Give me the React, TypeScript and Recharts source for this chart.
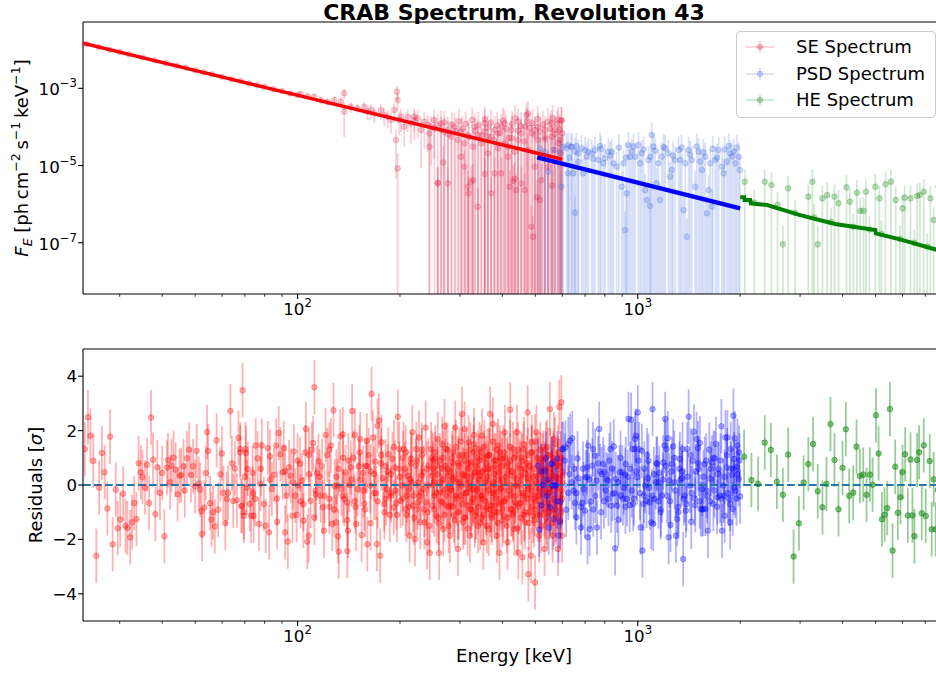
import React from "react";
import { ScatterChart, Scatter, XAxis, YAxis, ErrorBar, ReferenceLine, Legend } from "recharts";

const FONT = "'DejaVu Sans', Verdana, sans-serif";

// axis ranges
const E_RANGE = [23.4, 8000];
const F_RANGE = [4.69e-9, 0.0523];
const RES_RANGE = [-5, 5];

const E_TICKS = [30, 40, 50, 60, 70, 80, 90, 100, 200, 300, 400, 500, 600, 700, 800, 900, 1000, 2000, 3000, 4000, 5000, 6000, 7000];
const F_TICKS = [1e-7, 1e-5, 1e-3];
const RES_TICKS = [-4, -2, 0, 2, 4];

// model curves [keV, flux]
const SE_MODEL = [[23.4, 1.466e-2], [600, 1.45e-5]];
const PSD_MODEL = [[506, 1.63e-5], [2000, 7.78e-7]];
const HE_MODEL = [
  [2000, 1.5e-6], [2055, 1.5e-6], [2060, 1.28e-6], [2140, 1.28e-6], [2150, 1.05e-6], [2400, 9.5e-7],
  [3000, 5.2e-7], [3800, 3.05e-7], [4990, 2.13e-7], [5010, 1.75e-7], [5900, 1.22e-7], [8000, 5.7e-8],
];

// spectra [keV, flux, sigma / flux]
const SE_FLUX = [
  [24, 1.39e-2, 0.06], [26, 1.17e-2, 0.06], [28, 1.0e-2, 0.07], [30, 8.8e-3, 0.07], [32, 7.6e-3, 0.07], [35, 6.3e-3, 0.08],
  [38, 5.3e-3, 0.08], [41, 4.5e-3, 0.08], [44, 3.9e-3, 0.09], [47, 3.45e-3, 0.09], [50, 2.95e-3, 0.09], [53, 2.6e-3, 0.1],
  [56, 2.3e-3, 0.1], [60, 2.0e-3, 0.1], [64, 1.72e-3, 0.1], [68, 1.55e-3, 0.11], [72, 1.35e-3, 0.11], [76, 1.22e-3, 0.12],
  [80, 1.1e-3, 0.12], [85, 9.4e-4, 0.13], [90, 8.5e-4, 0.14], [95, 7.4e-4, 0.15], [100, 6.8e-4, 0.15],
  [102.1, 7.12e-4, 0.15], [106.8, 6.32e-4, 0.16], [111.8, 6.07e-4, 0.18], [117, 4.97e-4, 0.2], [122.4, 4.5e-4, 0.2],
  [128.1, 4.97e-4, 0.22], [134, 4.5e-4, 0.25], [137.1, 7.41e-4, 0.3], [137.1, 2.48e-4, 0.78], [143.4, 3.34e-4, 0.3],
  [150, 3.03e-4, 0.3], [157, 3.34e-4, 0.35], [160.6, 2.48e-4, 0.4], [164.3, 2.74e-4, 0.4], [168, 2.25e-4, 0.45],
  [175.8, 2.74e-4, 0.45], [179.8, 2.03e-4, 0.5], [183.9, 1.84e-4, 0.5], [188.1, 1.51e-4, 0.55], [192.4, 2.74e-4, 0.5],
  [194.6, 4.58e-5, 0.9], [196, 8.18e-4, 0.4], [196.8, 4.97e-4, 0.5], [196.8, 8.44e-6, 1.5], [199.1, 1.51e-4, 0.6],
  [201.3, 1.84e-4, 0.6], [205.9, 1.01e-4, 0.7], [210.6, 1.84e-4, 0.6], [215.4, 1.24e-4, 0.7], [220.4, 1.51e-4, 0.7],
  [220.5, 1.84e-4, 0.6], [225.4, 1.67e-4, 0.7], [230.6, 8.31e-5, 0.9], [235.9, 1.37e-4, 0.8], [241.3, 1.12e-4, 0.8],
  [244, 6.81e-5, 1.1], [244.1, 3.08e-5, 1.5], [246.8, 1.01e-4, 0.9], [252.5, 9.18e-5, 1.0], [258.2, 3.45e-6, 1.6],
  [258.3, 3.59e-6, 1.6], [264.1, 1.24e-4, 1.2], [270.2, 7.53e-5, 1.3], [276.4, 3.45e-6, 1.6], [276.4, 8.31e-5, 1.2],
  [282.7, 5.58e-5, 1.4], [289.2, 1.01e-4, 1.2], [295.8, 4.58e-5, 1.5], [302.5, 7.53e-5, 1.3], [302.6, 1.69e-5, 1.6],
  [309.5, 3.75e-5, 1.5], [309.6, 9.33e-6, 1.6], [316.6, 6.17e-5, 1.4], [316.6, 2.83e-6, 1.6], [318, 1.9e-6, 1.7],
  [323.8, 3.81e-6, 1.6], [327.5, 3.08e-5, 1.6], [327.6, 4.21e-6, 1.6], [331.2, 1.01e-4, 1.2], [338.8, 6.17e-5, 1.4],
  [338.8, 8.57e-7, 2], [346.6, 3.75e-5, 1.6], [354.6, 7.53e-5, 1.4], [354.6, 1.24e-4, 1.2], [362.7, 2.07e-5, 1.6],
  [362.7, 5.6e-5, 1.5], [371, 5.58e-5, 1.5], [371, 1.9e-6, 1.7], [379.4, 8.3e-5, 1.3], [379.5, 6.26e-6, 1.6],
  [388.2, 6.81e-5, 1.4], [388.2, 2.79e-5, 1.6], [397.1, 1.01e-4, 1.2], [397, 6.26e-6, 1.6], [406.2, 3.75e-5, 1.6],
  [406.2, 1.24e-4, 1.2], [415.5, 1.69e-5, 1.6], [415.4, 3.08e-5, 1.6], [420.3, 2.83e-6, 1.6], [425.1, 8.31e-5, 1.3],
  [425.1, 5.1e-5, 1.5], [434.8, 2.28e-5, 1.6], [434.6, 4.56e-6, 1.6], [439.6, 2.32e-6, 1.7], [444.8, 4.58e-5, 1.5],
  [444.8, 1.37e-4, 1.2], [454.8, 6.8e-5, 1.4], [455, 3.45e-6, 1.6], [465.4, 1.01e-4, 1.2], [465.2, 2.32e-6, 1.7],
  [470.7, 2.03e-4, 1.1], [475.7, 2.25e-4, 1.1], [476.1, 2.52e-5, 1.6], [486.7, 2.6e-7, 2.5], [487, 6.81e-5, 1.4],
  [492.3, 1.43e-7, 2.5], [497.9, 8.3e-5, 1.3], [498.2, 9.33e-6, 1.6], [509.2, 1.01e-4, 1.2], [509.6, 4.58e-5, 1.5],
  [515.4, 1.28e-6, 2], [520.9, 4.21e-6, 1.6], [521.3, 2.07e-5, 1.6], [532.9, 5.6e-5, 1.5], [533.2, 8.31e-5, 1.3],
  [545, 9.33e-6, 1.6], [545.5, 1.69e-5, 1.6], [557.6, 1.24e-4, 1.2], [558, 5.58e-5, 1.5], [570.2, 8.31e-5, 1.3],
  [570.8, 2.52e-5, 1.6], [583.4, 3.8e-5, 1.6], [583.9, 1.51e-4, 1.2], [590.5, 4.58e-5, 1.5], [594.5, 2.07e-5, 1.6],
  [596.7, 1.51e-4, 1.2], [600, 6.8e-5, 1.4],
  [252, 1.5e-4, 0.9], [258, 1.1e-4, 1.0], [264, 8.5e-5, 1.1], [268, 1.2e-5, 1.6], [270, 1.3e-4, 1.0], [277, 6.5e-5, 1.2],
  [284, 1.15e-4, 1.1], [291, 7.8e-5, 1.2], [298, 1.4e-4, 1.1], [305, 9.0e-5, 1.2], [312, 1.2e-4, 1.1], [319, 5.5e-5, 1.3],
  [326, 1.5e-4, 1.1], [333, 8.0e-5, 1.2], [340, 1.1e-4, 1.2], [347, 6.0e-5, 1.3], [355, 1.6e-4, 1.1], [355, 6e-6, 1.6],
  [362, 9.5e-5, 1.2], [370, 1.3e-4, 1.2], [378, 4.5e-5, 1.4], [386, 1.1e-4, 1.2], [394, 7.0e-5, 1.3], [402, 1.45e-4, 1.2],
  [410, 9.0e-5, 1.3], [418, 5.2e-5, 1.4], [427, 1.2e-4, 1.2], [430, 4e-6, 1.6], [436, 1.7e-4, 1.2], [445, 8.0e-5, 1.3],
  [454, 1.05e-4, 1.3], [463, 4.2e-5, 1.5], [472, 1.4e-4, 1.2], [481, 9.5e-5, 1.3], [490, 1.25e-4, 1.3], [499, 6.0e-5, 1.4],
  [505, 1.5e-6, 1.8], [508, 1.6e-4, 1.2], [517, 7.5e-5, 1.4], [526, 1.15e-4, 1.3], [535, 4.8e-5, 1.5], [544, 1.35e-4, 1.3],
  [553, 9.0e-5, 1.4], [560, 3e-6, 1.6], [562, 1.7e-4, 1.2], [571, 6.5e-5, 1.4], [580, 1.2e-4, 1.3], [589, 8.5e-5, 1.4],
  [597, 1.45e-4, 1.3],
];

const PSD_FLUX = [
  [515, 2.79e-5, 1.2], [533, 2.28e-5, 1.3], [545, 6.9e-6, 1.4], [564, 2.52e-5, 1.2], [597, 2.83e-6, 1.5], [603.6, 3.08e-5, 1.2],
  [617, 2.79e-5, 1.3], [624, 6.28e-6, 1.4], [624.4, 3.4e-5, 1.2], [638.6, 3.08e-5, 1.2], [639, 3.07e-5, 1.3], [646, 6.27e-6, 1.4],
  [653, 2.28e-5, 1.3], [653.5, 6.0e-7, 1.8], [668.4, 2.07e-5, 1.2], [669, 1.25e-5, 1.3], [683.7, 2.79e-5, 1.2], [691.5, 6.27e-6, 1.4],
  [707.3, 1.69e-5, 1.3], [715.3, 2.28e-5, 1.2], [731.7, 2.07e-5, 1.3], [748.4, 2.52e-5, 1.2], [765.6, 1.39e-5, 1.3],
  [774.3, 3.2e-5, 1.2], [792, 1.14e-5, 1.3], [801, 1.53e-5, 1.3], [819.3, 2.28e-5, 1.2], [838.1, 2.28e-5, 1.2],
  [847.6, 1.14e-5, 1.3], [866.9, 9.33e-6, 1.4], [896.9, 2.83e-6, 1.5], [907.1, 1.14e-5, 1.3], [917.5, 2.13e-7, 2],
  [927.9, 1.9e-6, 1.5], [938.4, 3.4e-5, 1.2], [949.1, 1.69e-5, 1.3], [970.9, 3.08e-5, 1.2], [981.8, 1.69e-5, 1.3],
  [1004, 3.4e-5, 1.2], [1016, 1.14e-5, 1.3], [1027, 2.07e-5, 1.2], [1051, 2.32e-6, 1.5], [1063, 1.28e-6, 1.6],
  [1075, 1.39e-5, 1.3], [1087, 8.93e-7, 1.7], [1099, 6.17e-5, 1.1], [1112, 3.08e-5, 1.2], [1137, 3.45e-6, 1.5],
  [1150, 1.14e-5, 1.3], [1163, 1.28e-6, 1.6], [1177, 1.69e-5, 1.3], [1203, 2.79e-5, 1.2], [1231, 2.07e-5, 1.2],
  [1245, 5.14e-6, 1.4], [1259, 7.65e-6, 1.4], [1288, 1.39e-5, 1.3], [1318, 2.52e-5, 1.2], [1333, 1.39e-5, 1.3],
  [1363, 7.03e-7, 1.8], [1379, 1.14e-5, 1.3], [1394, 1.43e-7, 2], [1410, 2.52e-5, 1.2], [1442, 1.39e-5, 1.3],
  [1475, 2.83e-6, 1.5], [1509, 2.28e-5, 1.2], [1526, 1.26e-5, 1.3], [1544, 7.65e-6, 1.4], [1579, 1.69e-5, 1.3],
  [1597, 5.77e-7, 1.8], [1615, 2.32e-6, 1.5], [1633, 1.14e-5, 1.3], [1652, 8.59e-7, 1.7], [1690, 1.39e-5, 1.3],
  [1729, 2.52e-5, 1.2], [1768, 9.33e-6, 1.4], [1788, 6.27e-6, 1.4], [1829, 1.26e-5, 1.3], [1871, 2.07e-5, 1.2],
  [1914, 2.28e-5, 1.2], [1936, 1.14e-5, 1.3], [1980, 1.69e-5, 1.3], [1995, 7.65e-6, 1.4],
  [590, 2.2e-5, 1.2], [630, 1.6e-5, 1.3], [660, 3.2e-5, 1.2], [700, 2.5e-5, 1.2], [740, 1.5e-5, 1.3], [780, 2.7e-5, 1.2],
  [830, 1.8e-5, 1.3], [880, 2.9e-5, 1.2], [925, 1.6e-5, 1.3], [960, 2.3e-5, 1.2], [1040, 2.6e-5, 1.2], [1090, 1.7e-5, 1.3],
  [1125, 2.4e-5, 1.2], [1190, 3.0e-5, 1.2], [1270, 1.8e-5, 1.3], [1345, 2.9e-5, 1.2], [1425, 1.9e-5, 1.3], [1490, 3.1e-5, 1.2],
  [1560, 2.2e-5, 1.2], [1660, 2.7e-5, 1.2], [1710, 1.6e-5, 1.3], [1800, 2.6e-5, 1.2], [1850, 3.2e-5, 1.2], [1890, 1.7e-5, 1.3],
  [1955, 2.9e-5, 1.2],
];

const HE_FLUX = [
  [2063, 3.81e-6, 1.1], [2200, 1.1e-6, 1.2], [2362, 3.81e-6, 1.1], [2471, 3.13e-6, 1.1], [2575, 9.48e-7, 1.2],
  [2670, 9.08e-8, 2], [2768, 2.56e-6, 1.1], [2900, 6e-7, 1.2], [3172, 1.56e-6, 1.1], [3261, 3.81e-6, 1.1],
  [3300, 4.5e-7, 1.2], [3381, 9.08e-8, 2], [3490, 1.41e-6, 1.1], [3603, 1.72e-6, 1.1], [3700, 3.5e-7, 1.2],
  [3787, 1.56e-6, 1.1], [3891, 1.05e-6, 1.2], [4108, 2.72e-6, 1.1], [4203, 1.16e-6, 1.2], [4300, 2.6e-7, 1.2],
  [4406, 1.98e-6, 1.1], [4509, 6.62e-7, 1.2], [4613, 6.76e-7, 1.2], [4686, 2.1e-6, 1.1], [4800, 2.2e-7, 1.2],
  [4991, 2.83e-6, 1.1], [5131, 1.41e-6, 1.1], [5200, 1.7e-7, 1.2], [5348, 3.25e-6, 1.1], [5548, 3.81e-6, 1.1],
  [5730, 1.28e-6, 1.2], [5900, 1.25e-7, 1.2], [6001, 7.77e-7, 1.2], [6087, 1.47e-6, 1.1], [6334, 1.41e-6, 1.1],
  [6500, 1.0e-7, 1.2], [6624, 1.62e-6, 1.1], [6743, 1.72e-6, 1.1], [6928, 2.1e-6, 1.1], [7100, 8e-8, 1.2],
  [7248, 1.41e-6, 1.1], [7410, 3.87e-7, 1.2], [7653, 2.83e-6, 1.1],
];

// residuals [keV, sigma]
const SE_RES = [
  [23.7, 1.32], [24.2, 2.49], [24.6, 1.81], [25.1, 0.89], [25.6, -2.6], [26.1, -0.09], [26.6, 1.18], [27.1, 0.47], [27.6, -0.86],
  [28.1, 1.78], [28.6, -2.18], [29.2, -0.17], [29.6, -1.59], [30.1, -1.27], [30.7, -0.32], [31.2, -1.5], [31.6, -1.58],
  [32.2, -1.92], [32.6, -1.37], [33.1, -0.66], [33.6, -1.25], [34.1, 0.8], [34.6, 0.47], [35.0, 0.29], [35.6, -0.09],
  [36.1, 0.74], [36.6, -0.66], [37.1, 2.48], [37.6, 0.93], [38.2, -1.07], [38.7, 0.65], [39.4, -0.29], [40.0, 0.44],
  [40.6, -1.89], [41.3, 0.64], [41.6, 0.91], [42.2, 0.1], [42.6, 0.71], [43.2, 1.0], [43.8, 0.56], [44.4, -0.34], [45.0, 0.34],
  [45.5, 0.37], [46.2, 0.69], [46.6, -0.2], [47.3, 0.98], [48.0, 1.3], [48.6, 0.37], [49.3, 0.69], [50.0, -0.05], [50.5, 1.25],
  [51.2, 0.05], [51.7, -0.17], [52.2, -0.96], [52.4, -1.8], [53.2, -0.83], [53.7, 0.44], [54.2, 1.95], [54.6, 1.25],
  [55.3, -0.67], [55.8, -1.27], [56.4, -1.0], [57.1, -1.52], [57.8, 1.64], [58.4, -0.91], [59.3, 0.39], [59.9, 1.16],
  [60.5, -0.29], [61.3, -1.4], [61.9, -0.51], [62.5, -0.29], [63.5, 2.72], [64.1, 0.8], [64.7, -0.59], [65.4, 0.61],
  [66.3, -0.56], [67.0, 1.73], [67.8, 1.2], [68.3, -0.78], [68.9, 3.48], [69.5, -1.13], [70.3, 1.32], [70.9, -0.09],
  [67.9, 1.32], [68.7, -0.76], [69.5, -1.0], [70.5, 1.18], [71.4, 0.59], [72.4, -0.7], [73.0, -1.13], [73.7, 0.44],
  [74.3, -1.13], [75.0, -0.51], [75.3, 1.45], [76.3, 0.98], [77.0, -1.43], [77.8, 0.04], [78.5, 1.45], [79.6, -0.7],
  [80.6, -1.5], [81.8, 1.35], [82.5, -1.74], [82.9, 1.05], [84.0, -0.15], [85.2, 0.37], [86.5, 1.45], [87.1, -1.35],
  [88.0, 1.91], [89.1, 1.13], [90.4, 0.47], [91.1, 1.35], [91.9, -1.74], [92.8, -0.39], [93.6, -2.08], [94.4, 0.65],
  [95.4, 0.34], [96.6, -1.13], [97.5, 1.23], [98.4, -0.39], [99.4, -1.1], [100.3, -0.02], [101.7, 0.78], [103.0, 0.16],
  [104.0, -1.31], [105.4, 1.2], [105.8, 2.06], [106.8, -2.08], [107.8, -1.86], [109.2, -0.59], [110.1, 1.3], [111.1, 1.54],
  [112.1, 3.59], [113.1, -0.34], [114.1, 0.44], [115.2, 0.88], [116.9, -0.39], [118.5, -0.82], [119.6, -1.68], [120.9, 1.84],
  [122.3, 1.1], [123.9, -0.51], [125.3, 1.45], [126.4, -1.43], [127.5, 2.75], [128.6, -0.05], [129.8, -1.37], [131.0, -0.02],
  [131.5, -1.89], [132.1, -2.45], [133.4, 1.79], [134.6, -0.15], [135.9, 1.86], [137.1, -0.51], [138.3, 0.47], [139.6, -0.64],
  [140.1, -2.43], [140.7, -1.68], [142.0, 0], [143.3, 0.65], [144.6, 2.72], [146.0, 1.0], [147.3, 1.84], [148.7, -1.43],
  [150.0, -0.15], [151.4, 0.69], [152.8, 1.69], [154.3, -1.84], [155.7, 0.44], [157.1, -0.69], [158.6, 0.69], [159.8, 1.63],
  [160.4, -2.18], [161.9, 1.1], [163.5, -0.02], [165.0, 3.35], [166.5, 1.74], [167.9, -0.29], [169.4, 0.86], [171.0, -2.17],
  [171.8, 2.18], [173.4, 2.37], [174.9, -2.6], [176.5, 1.57], [178.1, 0.25], [179.8, -0.71], [181.4, 0.69], [183.1, -0.15],
  [184.8, 1.13], [186.6, -1.1], [188.3, -0.39], [190.0, 0.96], [191.8, -0.83], [193.5, 0.64], [195.3, -0.66], [197.1, 2.51],
  [199.0, 1.32], [200.8, -0.58],
  [70, 0.3], [74, -0.3], [78, 0.6], [83, 0.2], [87, -0.5], [92, 0.5], [97, 0.1], [102, -0.6], [108, 0.4], [113, -0.2],
  [118, 0.7], [124, -0.8], [130, 0.3], [136, -0.4], [141, 0.9], [147, -0.6], [153, 0.2], [158, -0.9], [164, 0.5], [170, -0.3],
  [176, 0.8], [182, -0.5], [188, 0.4], [194, -0.2], [199, 0.6],
  [205.0, 1.32], [207.8, -0.88], [210.6, 0.34], [213.5, -1.86], [215.4, 0.96], [217.4, 1.94], [219.4, -0.39], [221.4, -1.99],
  [223.4, 1.32], [225.4, -0.64], [227.5, 1.74], [229.5, -1.37], [231.6, 0.34], [233.7, -0.15], [235.9, -1.37], [238.0, 2.11],
  [240.2, -2.11], [242.4, 0.71], [244.6, -2.5], [246.8, 1.32], [249.1, -0.76], [251.3, 0.1], [253.6, 0.96], [256.0, -1.13],
  [258.3, 1.69], [260.7, -2.5], [263.0, -0.27], [265.4, 0.61], [267.9, -1.62], [270.3, 2.16], [272.8, 1.32], [275.2, -0.76],
  [277.8, 0.34], [280.3, -1.86], [282.8, -0.15], [285.4, 0.83], [288.0, -1.13], [290.7, 2.11], [293.3, 0.1], [296.0, -2.35],
  [298.7, 1.08], [301.4, -0.39], [304.2, 2.61], [306.9, -1.37], [309.7, 2.06], [312.6, 0.34], [315.4, -0.76], [318.3, 1.57],
  [321.2, -1.86], [324.1, 0.83], [327.1, -0.15], [330.0, 1.84], [333.0, -1.13], [336.1, 0.47], [339.2, -1.5], [342.3, 1.32],
  [345.4, -0.39], [348.5, 1.81], [351.7, -2.11], [354.9, 0.59], [358.2, -0.82], [361.4, 1.08], [364.7, -1.62], [368.1, 2.61],
  [371.4, -0.02], [374.8, 2.24], [378.2, -0.76], [381.7, 0.71], [385.1, -1.86], [388.7, 1.45], [392.2, -2.5], [395.8, -0.15],
  [399.4, 0.96], [403.0, -1.13], [406.7, 1.94], [410.4, -0.51], [414.2, -2.11], [418.0, 0.53], [421.8, 2.77], [425.6, -0.88],
  [429.5, 1.32], [433.4, -1.62], [437.4, -0.02], [441.4, 1.94], [445.4, -2.48], [449.5, 0.71], [453.6, -0.64], [457.8, -2.66],
  [462.0, 1.32], [466.2, -1.37], [470.4, 0.25], [474.7, 2.67], [476.9, -3.28], [481.3, -0.33], [485.7, -2.6], [487.9, 1.57],
  [492.3, -1.13], [496.8, 0.59], [499.1, -3.58], [503.7, 1.94], [508.3, -0.39], [512.9, -1.86], [517.6, 0.96], [522.3, -0.76],
  [527.1, 0.34], [531.9, -2.35], [536.8, 1.32], [541.7, -1.37], [546.7, -0.15], [551.7, 2.79], [556.7, 0.59], [561.8, -1.86],
  [567.0, 1.69], [572.2, -0.88], [577.4, 0.22], [582.7, -2.35], [588.0, 2.87], [593.4, 0.96], [596.1, 3.04], [598.8, -0.51],
  [599.4, -1.86], [600, 0.34],
  [203.1, -0.02], [206.8, 0.59], [209.7, -0.39], [212.5, -0.15], [214.5, 0.22], [218.4, -0.76], [222.4, 0.71], [226.5, 0.1],
  [230.6, -0.27], [234.8, 0.47], [239.1, -0.64], [243.5, -0.02], [248.0, 0.34], [252.5, -0.39], [257.1, 0.71], [261.8, 0.1],
  [266.6, -0.64], [271.5, -0.15], [276.5, 0.59], [281.6, -0.76], [286.7, 0.22], [292.0, -0.39], [297.3, 0.71], [302.8, -0.02],
  [308.3, 0.34], [314.0, -0.27], [319.7, 0.1], [325.6, -0.64], [331.5, 0.47], [337.6, -0.15], [343.8, 0.34], [350.1, -0.51],
  [356.5, 0.1], [363.1, 0.59], [369.7, -0.76], [376.5, 0.1], [383.4, -0.27], [390.4, 0.47], [397.6, -0.64], [404.9, 0.1],
  [412.3, 0.71], [419.9, -0.39], [427.6, 0.34], [435.4, -0.64], [443.4, -0.02], [451.6, 0.34], [459.9, -0.39], [468.3, 0.59],
  [476.9, -0.15], [485.7, 0.1], [494.6, -0.51], [503.7, 0.34], [512.9, -0.15], [522.3, 0.59], [531.9, -0.64], [541.7, 0.1],
  [551.7, -0.27], [561.8, 0.34], [572.2, -0.15], [582.7, 0.71], [593.4, -0.39], [599.5, 0.1],
  [204, 1.0], [209, -1.1], [216, 0.8], [224, -0.9], [232, 1.1], [241, -1.0], [250, 0.9], [259, -1.2], [268, 1.0], [278, -0.8],
  [287, 1.2], [296, -1.0], [305, 1.1], [311, -1.2], [317, 0.8], [323, -0.9], [329, 1.2], [335, -1.0], [341, 0.9], [347, -1.2],
  [353, 1.0], [359, -0.9], [366, 1.1], [372, -1.1], [379, 0.9], [386, -1.0], [393, 1.2], [400, -0.9], [407, 1.0], [415, -1.2],
  [422, 0.9], [430, -1.0], [438, 1.1], [446, -0.8], [455, 1.0], [463, -1.1], [472, 0.8], [480, -1.0], [489, 1.2], [498, -0.9],
  [507, 1.0], [516, -1.1], [526, 0.9], [536, -1.0], [545, 1.1], [555, -0.9], [565, 1.0], [575, -1.2], [585, 0.8], [595, -1.0],
];

// the dense 100-600 keV band of SE residuals
const SE_RES_DENSE = [
  [100, 0.9], [104, -0.7], [108, 1.1], [112, -1.2], [116, 0.3], [120, -0.4], [124, 1.3], [128, -0.9], [132, 0.6], [136, 1.0],
  [140, -1.3], [144, 0.2], [148, -0.8], [152, 1.2], [156, -0.2], [160, 0.7], [164, -1.4], [168, 0.4], [172, -0.6], [176, 1.1],
  [180, -1.0], [184, 0.5], [188, -0.3], [192, 1.4], [196, -1.1], [200, 0.3], [204, -0.5], [208, 1.2], [212, -0.8], [216, 0.1],
  [220, -1.2], [224, 0.9], [228, -0.4], [232, 1.3], [236, -0.9], [240, 0.6], [244, -1.5], [248, 1.0],
  [250, 0.6], [252, -0.9], [254, 1.2], [256, -0.3], [258, 0.4], [260, -1.4], [262, 0.9], [264, -0.6], [266, 1.5], [268, 0.2],
  [270, -1.1], [272, 0.7], [274, -0.4], [276, 1.3], [278, -1.5], [280, 0.5], [282, -0.2], [284, 1.0], [286, -0.8], [288, 0.3],
  [290, -1.3], [292, 1.4], [294, -0.5], [296, 0.8], [298, -1.0], [300, 0.1], [302, 1.6], [304, -0.7], [306, 0.4], [308, -1.2],
  [310, 0.9], [312, -0.3], [314, 1.1], [316, -1.6], [318, 0.6], [320, -0.1], [322, 1.3], [324, -0.9], [326, 0.3], [328, -0.5],
  [330, 1.5], [332, -1.3], [334, 0.7], [336, -0.2], [338, 1.0], [340, -0.8], [342, 0.2], [344, -1.4], [346, 1.2], [348, -0.4],
  [350, 0.5], [352, -1.1], [354, 1.4], [356, -0.6], [358, 0.8], [360, -1.5], [362, 0.3], [364, -0.2], [366, 1.1], [368, -0.9],
  [370, 0.6], [372, -1.2], [374, 1.6], [376, -0.3], [378, 0.4], [380, -1.0], [382, 0.9], [384, -0.5], [386, 1.3], [388, -1.4],
  [390, 0.2], [392, -0.7], [394, 1.0], [396, -0.1], [398, 0.7], [400, -1.3],
  [403, 1.2], [406, -0.6], [409, 0.3], [412, -1.5], [415, 0.8], [418, -0.2], [421, 1.4], [424, -0.9], [427, 0.5], [430, -1.1],
  [433, 1.0], [436, -0.4], [439, 0.2], [442, -1.6], [445, 1.3], [448, -0.7], [451, 0.6], [454, -1.2], [457, 0.9], [460, -0.3],
  [463, 1.5], [466, -1.0], [469, 0.4], [472, -0.5], [475, 1.1], [478, -1.4], [481, 0.7], [484, -0.1], [487, 1.2], [490, -0.8],
  [493, 0.3], [496, -1.3], [499, 1.6], [502, -0.6], [505, 0.1], [508, -1.1], [511, 0.8], [514, -0.4], [517, 1.3], [520, -1.5],
  [523, 0.5], [526, -0.2], [529, 1.0], [532, -0.9], [535, 0.6], [538, -1.2], [541, 1.4], [544, -0.3], [547, 0.2], [550, -1.0],
  [553, 1.1], [556, -0.7], [559, 0.4], [562, -1.4], [565, 0.9], [568, -0.5], [571, 1.5], [574, -1.1], [577, 0.3], [580, -0.6],
  [583, 1.2], [586, -0.8], [589, 0.7], [592, -1.3], [595, 1.0], [598, -0.2], [600, 0.5],
];

const PSD_RES = [
  [509, 0.71], [513, -1.64], [520, -0.74], [527, 0], [532, 0.53], [537, 0.98], [542, 0.2], [547, -1.56], [552, -0.82],
  [557, 0.77], [562, -0.02], [567, -1.25], [570, -0.02], [575, -0.02], [580, 0.98], [585, -1.86], [591, -1.35], [593, -0.61],
  [599, 1.32], [604, 1.32], [613, 1.38], [625, 1.51], [633, 1.63], [642, 1.72], [616, -0.91], [625, -0.29], [639, 0.1],
  [648, -0.21], [654, -0.66], [660, -1.19], [665, 0.98], [669, 0.25], [681, -1.56], [687, -0.66], [693, -0.15], [699, -0.94],
  [703, 0.28], [709, 0.65], [712, -1.92], [715, 1.45], [722, -1.62], [729, -0.61], [735, 0.71], [738, 1.32], [749, 1.08],
  [756, 0.16], [759, -1.56], [770, 2.06], [780, -1.0], [783, 0.4], [791, 0.77], [798, 0.47], [809, 0.22], [816, 0.16],
  [820, -0.51], [831, 1.32], [835, -0.76], [842, -0.33], [850, 1.42], [858, -2.33], [862, 0.22], [869, -0.76], [877, -1.27],
  [885, 0.47], [893, -0.39], [901, 0.47], [910, -0.09], [918, 0.37], [922, 0.77], [930, -0.51], [939, 2.43], [947, -0.74],
  [956, 2.4], [965, 1.32], [969, -0.7], [978, 1.32], [982, 1.69], [987, 1.81], [996, 0.28], [1000, 2.67], [1009, 1.32],
  [1019, -1.56], [1028, 1.26], [1032, -2.41], [1042, -0.39], [1051, -0.02], [1061, -0.58], [1070, 0.25], [1075, 0.89],
  [1085, -0.64], [1095, -1.37], [1105, 2.79], [1110, -1.43], [1120, -0.51], [1130, 0.1], [1140, 0.77], [1151, 0.1],
  [1156, 0.44], [1167, -1.0], [1177, -0.39], [1188, 0.83], [1199, 1.45], [1204, 2.43], [1215, 1.32], [1226, 1.72],
  [1232, -1.92], [1237, 0.16], [1248, -1.47], [1260, 0.77], [1271, 1.42], [1283, 0.1], [1294, -1.86], [1306, -1.25],
  [1318, -1.0], [1330, 0.96], [1336, 0.2], [1348, 0.25], [1354, 1.32], [1360, -2.72], [1373, -0.39], [1385, -0.94],
  [1398, 1.32], [1411, 2.51], [1423, -0.02], [1436, -1.35], [1449, 0.89], [1463, 1.96], [1476, -0.74], [1489, 1.69],
  [1503, 1.35], [1510, 0.59], [1523, 1.54], [1530, -0.88], [1544, -0.15], [1558, -0.88], [1573, 0.77], [1580, -0.88],
  [1594, -0.21], [1608, -1.68], [1623, 1.3], [1638, 0.22], [1653, 0.83], [1668, -0.7], [1683, 0.98], [1698, 1.51],
  [1714, -0.45], [1729, 0.59], [1745, -0.39], [1761, 2.16], [1769, -1.68], [1785, -0.02], [1801, -1.13], [1809, 1.75],
  [1826, 0.65], [1834, 1.75], [1851, -0.51], [1868, -1.37], [1876, 1.32], [1893, 0.37], [1902, -0.88], [1910, 2.55],
  [1919, 0.96], [1928, 1.72], [1936, -0.21], [1954, 0.65], [1963, 1.45], [1981, 0.22], [1999, -0.42],
  [630, 0.4], [660, -0.3], [690, 0.6], [720, 0.2], [750, -0.4], [775, 0.5], [805, -0.2], [840, 0.6], [875, 0.1], [905, -0.5],
  [935, 0.3], [960, -0.2], [990, 0.5], [1015, -0.3], [1045, 0.6], [1080, -0.1], [1115, 0.4], [1150, -0.6], [1185, 0.2],
  [1220, -0.4], [1255, 0.5], [1290, -0.2], [1325, 0.6], [1365, -0.5], [1400, 0.3], [1440, -0.3], [1480, 0.5], [1520, -0.6],
  [1560, 0.3], [1600, -0.4], [1640, 0.6], [1680, -0.2], [1720, 0.4], [1760, -0.5], [1800, 0.3], [1840, -0.3], [1880, 0.6],
  [1920, -0.1], [1960, 0.4], [1990, 0.9],
  [520, 0.5], [540, -0.4], [560, 0.8], [580, -0.6], [610, 0.9], [650, 0.6], [680, -0.8], [710, 0.3], [740, -0.9], [765, 0.8],
  [795, -0.6], [825, 0.9], [855, -0.3], [890, 1.0], [920, -0.8], [950, 0.6], [975, -0.5], [1005, 0.9], [1040, -0.7],
  [1065, 1.1], [1100, -0.4], [1135, 0.8], [1170, -0.9], [1210, 0.7], [1245, -0.6], [1280, 1.0], [1315, -0.8], [1350, 0.5],
  [1390, -0.7], [1430, 1.1], [1470, -0.5], [1505, 0.8], [1545, -0.9], [1590, 0.9], [1630, -0.6], [1670, 1.0], [1710, -0.8],
  [1750, 0.9], [1790, -0.4], [1830, 1.1], [1870, -0.7], [1910, 0.6], [1950, -0.5], [1985, 1.2],
];

const HE_RES = [
  [2054, 1.04], [2158, 0.18], [2258, 0.04], [2362, 1.56], [2461, 1.29], [2564, 0.12], [2670, -0.36], [2768, 1.12],
  [2870, -2.63], [2976, -1.41], [3073, 0.09], [3172, 0.77], [3275, 1.51], [3381, -0.23], [3490, -0.82], [3587, 0.04],
  [3686, 2.24], [3787, 0.92], [3891, -0.89], [3998, 0.63], [4089, 2.05], [4183, -0.4], [4298, -0.28], [4396, 1.41],
  [4497, 0.33], [4600, 0.38], [4705, -0.36], [4813, 0.38], [4900, 0.01], [5013, 2.56], [5104, 1.16], [5221, -1.26],
  [5316, -1.09], [5412, -0.85], [5510, 2.79], [5610, -2.41], [5711, 0.67], [5815, -1.02], [5921, -0.45], [6001, 0.48],
  [6110, 1.13], [6221, -1.12], [6334, 0.94], [6419, -1.12], [6506, -1.88], [6624, 0.92], [6713, 1.2], [6836, -1.04],
  [6928, 1.46], [7022, -1.14], [7213, 0.88], [7311, -1.63], [7410, 0.21], [7511, -1.63], [7613, -0.18],
];

const RES_ERR = 1;

const LEGEND_ITEMS = [
  { name: "SE Spectrum", color: "#dc143c" },
  { name: "PSD Spectrum", color: "#4169e1" },
  { name: "HE Spectrum", color: "#008000" },
];

const SPINE = { stroke: "#000", strokeWidth: 1.1 };

const fluxRows = (rows: number[][]) =>
  rows.map(([e, f, rel]) => {
    const s = f * rel;
    return { e, f, err: [Math.min(s, f - F_RANGE[0]), s] };
  });
const lineRows = (rows: number[][]) => rows.map(([e, f]) => ({ e, f }));
const resRows = (rows: number[][]) => rows.map(([e, r]) => ({ e, r, err: RES_ERR }));

const dot = (color: string, alpha: number) => (p: any) => (
  <circle cx={p.cx} cy={p.cy} r={2.8} fill={color} fillOpacity={alpha} stroke={color} strokeOpacity={alpha} strokeWidth={1} />
);
const noDot = () => <g />;

function EnergyTick(props: any) {
  const { x, y, payload } = props;
  const lg = Math.log10(payload.value);
  const major = Math.abs(lg - Math.round(lg)) < 1e-9;
  return (
    <g>
      <line x1={x} x2={x} y1={y} y2={y + (major ? 4.9 : 2.8)} stroke="#000" strokeWidth={major ? 1.1 : 0.8} />
      {major && (
        <text x={x} y={y + 21} textAnchor="middle" fontFamily={FONT} fontSize={16.7} fill="#000">
          10<tspan dy={-8} fontSize={11.7}>{Math.round(lg)}</tspan>
        </text>
      )}
    </g>
  );
}

function FluxTick(props: any) {
  const { x, y, payload } = props;
  const exp = Math.round(Math.log10(payload.value));
  return (
    <g>
      <line x1={x} x2={x - 4.9} y1={y} y2={y} stroke="#000" strokeWidth={1.1} />
      <text x={x - 6} y={y + 7} textAnchor="end" fontFamily={FONT} fontSize={16.7} fill="#000">
        10<tspan dy={-8} fontSize={11.7}>{"\u2212" + Math.abs(exp)}</tspan>
      </text>
    </g>
  );
}

function ResTick(props: any) {
  const { x, y, payload } = props;
  const v = payload.value;
  return (
    <g>
      <line x1={x} x2={x - 4.9} y1={y} y2={y} stroke="#000" strokeWidth={1.1} />
      <text x={x - 6} y={y + 6} textAnchor="end" fontFamily={FONT} fontSize={16.7} fill="#000">
        {v < 0 ? "\u2212" + Math.abs(v) : String(v)}
      </text>
    </g>
  );
}

function TitleLabel(props: any) {
  const { viewBox } = props;
  return (
    <text x={viewBox.x + viewBox.width / 2} y={20} textAnchor="middle" fontFamily={FONT} fontSize={22} fontWeight="bold" fill="#000">
      CRAB Spectrum, Revolution 43
    </text>
  );
}

function FluxLabel(props: any) {
  const { viewBox } = props;
  const cy = viewBox.y + viewBox.height / 2;
  return (
    <text transform={`translate(28, ${cy}) rotate(-90)`} textAnchor="middle" fontFamily={FONT} fontSize={18} fill="#000">
      <tspan fontStyle="italic">F</tspan>
      <tspan fontStyle="italic" fontSize={12.6} dy={4}>E</tspan>
      <tspan dy={-4}>{" [ph\u2009cm"}</tspan>
      <tspan fontSize={12.6} dy={-8}>{"\u22122"}</tspan>
      <tspan dy={8}>{"\u2009s"}</tspan>
      <tspan fontSize={12.6} dy={-8}>{"\u22121"}</tspan>
      <tspan dy={8}>{"\u2009keV"}</tspan>
      <tspan fontSize={12.6} dy={-8}>{"\u22121"}</tspan>
      <tspan dy={8}>]</tspan>
    </text>
  );
}

function ResLabel(props: any) {
  const { viewBox } = props;
  const cy = viewBox.y + viewBox.height / 2;
  return (
    <text transform={`translate(42, ${cy}) rotate(-90)`} textAnchor="middle" fontFamily={FONT} fontSize={18} fill="#000">
      Residuals [<tspan fontStyle="italic">σ</tspan>]
    </text>
  );
}

function EnergyLabel(props: any) {
  const { viewBox } = props;
  return (
    <text x={viewBox.x + viewBox.width / 2} y={viewBox.y + 41} textAnchor="middle" fontFamily={FONT} fontSize={18} fill="#000">
      Energy [keV]
    </text>
  );
}

function LegendBox() {
  return (
    <div
      style={{
        position: "relative", width: 200, height: 87, boxSizing: "border-box", border: "1px solid #cccccc",
        borderRadius: 4, background: "rgba(255,255,255,0.8)", fontFamily: FONT, fontSize: 18, color: "#000",
      }}
    >
      {LEGEND_ITEMS.map((it, i) => (
        <div key={it.name} style={{ position: "absolute", left: 0, top: 1.5 + i * 26.7, height: 26.7, display: "flex", alignItems: "center" }}>
          <svg width={30} height={16} style={{ marginLeft: 8 }}>
            <line x1={1} x2={29} y1={8} y2={8} stroke={it.color} strokeOpacity={0.2} strokeWidth={1.8} />
            <line x1={15} x2={15} y1={2} y2={14} stroke={it.color} strokeOpacity={0.2} strokeWidth={1.8} />
            <circle cx={15} cy={8} r={2.8} fill={it.color} fillOpacity={0.25} stroke={it.color} strokeOpacity={0.25} />
          </svg>
          <span style={{ marginLeft: 21, lineHeight: "20px" }}>{it.name}</span>
        </div>
      ))}
    </div>
  );
}

export default function App() {
  const seModel = lineRows(SE_MODEL);
  const psdModel = lineRows(PSD_MODEL);
  const heModel = lineRows(HE_MODEL);
  const seFlux = fluxRows(SE_FLUX);
  const psdFlux = fluxRows(PSD_FLUX);
  const heFlux = fluxRows(HE_FLUX);
  const seRes = resRows([...SE_RES, ...SE_RES_DENSE]);
  const psdRes = resRows(PSD_RES);
  const heRes = resRows(HE_RES);

  return (
    <div style={{ position: "fixed", left: 0, top: 0, width: 936, height: 674, overflow: "hidden", background: "#fff" }}>
      <div style={{ position: "absolute", left: 0, top: 0 }}>
        <ScatterChart width={960} height={330} margin={{ top: 0, right: 15, bottom: 0, left: 0 }}>
          <XAxis xAxisId="top" orientation="top" type="number" scale="log" domain={E_RANGE} allowDataOverflow height={22}
            tick={false} tickLine={false} axisLine={SPINE} label={<TitleLabel />} />
          <XAxis dataKey="e" type="number" scale="log" domain={E_RANGE} allowDataOverflow ticks={E_TICKS} interval={0}
            height={36} tickSize={0} tickMargin={0} tickLine={false} axisLine={SPINE} tick={<EnergyTick />} />
          <YAxis dataKey="f" type="number" scale="log" domain={F_RANGE} allowDataOverflow ticks={F_TICKS} interval={0}
            width={83} tickSize={0} tickMargin={0} tickLine={false} axisLine={SPINE} tick={<FluxTick />} label={<FluxLabel />} />
          <Legend content={() => <LegendBox />} layout="horizontal" verticalAlign="middle" align="center"
            wrapperStyle={{ left: 736, top: 31, width: 200, height: 87 }} />
          <Scatter data={seModel} shape={noDot} line={{ stroke: "#ff0000", strokeWidth: 3.5 }} isAnimationActive={false} />
          <Scatter data={psdModel} shape={noDot} line={{ stroke: "#0000ff", strokeWidth: 4.5 }} isAnimationActive={false} />
          <Scatter data={heModel} shape={noDot} line={{ stroke: "#008000", strokeWidth: 4 }} isAnimationActive={false} />
          <Scatter data={seFlux} shape={dot("#dc143c", 0.22)} isAnimationActive={false}>
            <ErrorBar dataKey="err" direction="y" width={0} stroke="rgba(220,20,60,0.2)" strokeWidth={1.8} />
          </Scatter>
          <Scatter data={psdFlux} shape={dot("#4169e1", 0.25)} isAnimationActive={false}>
            <ErrorBar dataKey="err" direction="y" width={0} stroke="rgba(65,105,225,0.2)" strokeWidth={1.8} />
          </Scatter>
          <Scatter data={heFlux} shape={dot("#008000", 0.25)} isAnimationActive={false}>
            <ErrorBar dataKey="err" direction="y" width={0} stroke="rgba(0,128,0,0.18)" strokeWidth={1.8} />
          </Scatter>
        </ScatterChart>
      </div>
      <div style={{ position: "absolute", left: 0, top: 320 }}>
        <ScatterChart width={960} height={354} margin={{ top: 0, right: 15, bottom: 0, left: 0 }}>
          <XAxis xAxisId="top" orientation="top" type="number" scale="log" domain={E_RANGE} allowDataOverflow height={29}
            tick={false} tickLine={false} axisLine={SPINE} />
          <XAxis dataKey="e" type="number" scale="log" domain={E_RANGE} allowDataOverflow ticks={E_TICKS} interval={0}
            height={53} tickSize={0} tickMargin={0} tickLine={false} axisLine={SPINE} tick={<EnergyTick />} label={<EnergyLabel />} />
          <YAxis dataKey="r" type="number" domain={RES_RANGE} allowDataOverflow ticks={RES_TICKS} interval={0}
            width={83} tickSize={0} tickMargin={0} tickLine={false} axisLine={SPINE} tick={<ResTick />} label={<ResLabel />} />
          <Scatter data={seRes} shape={dot("#ff0000", 0.3)} isAnimationActive={false}>
            <ErrorBar dataKey="err" direction="y" width={0} stroke="rgba(255,0,0,0.3)" strokeWidth={1.8} />
          </Scatter>
          <Scatter data={psdRes} shape={dot("#0000ff", 0.3)} isAnimationActive={false}>
            <ErrorBar dataKey="err" direction="y" width={0} stroke="rgba(0,0,255,0.3)" strokeWidth={1.8} />
          </Scatter>
          <Scatter data={heRes} shape={dot("#008000", 0.45)} isAnimationActive={false}>
            <ErrorBar dataKey="err" direction="y" width={0} stroke="rgba(0,128,0,0.4)" strokeWidth={1.8} />
          </Scatter>
          <ReferenceLine y={0} stroke="#1f77b4" strokeWidth={1.8} strokeDasharray="7.7 3.3" />
        </ScatterChart>
      </div>
    </div>
  );
}
